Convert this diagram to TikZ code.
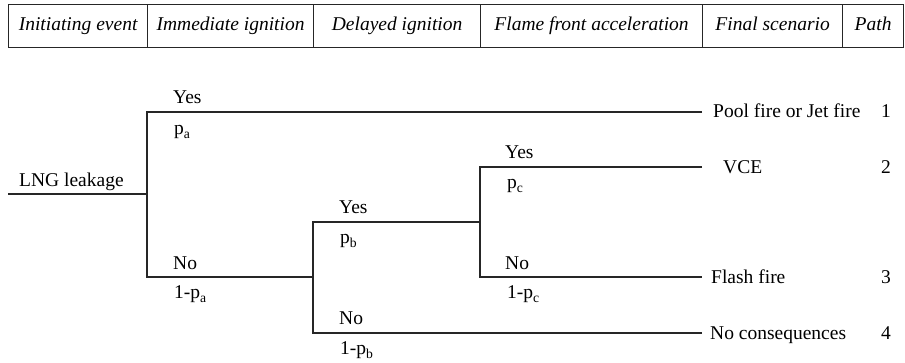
\documentclass[tikz,border=0pt]{standalone}
\usepackage{fontspec}
\setmainfont{Liberation Serif}
\begin{document}
\begin{tikzpicture}[x=1pt,y=-1pt,
  fs/.style={font=\fontsize{19.5}{23}\selectfont},
  cell/.style={draw=black!85, line width=1.2pt, minimum height=43pt, inner sep=0pt,
    text height=12.6pt, text depth=4.2pt, anchor=north west, font=\fontsize{19.5}{23}\selectfont\itshape},
  tree/.style={draw=black!85, line width=1.5pt},
  lab/.style={fs, anchor=base west, inner sep=0pt},
  num/.style={fs, anchor=base, inner sep=0pt}]
\useasboundingbox (0,0) rectangle (905,363);
% header
\node[cell, minimum width=139pt] (h1) at (8,4) {Initiating event};
\node[cell, minimum width=166pt] (h2) at (147,4) {Immediate ignition};
\node[cell, minimum width=167pt] (h3) at (313,4) {Delayed ignition};
\node[cell, minimum width=222pt] (h4) at (480,4) {Flame front acceleration};
\node[cell, minimum width=140pt] (h5) at (702,4) {Final scenario};
\node[cell, minimum width=61pt] (h6) at (842,4) {Path};
% tree coordinates
\coordinate (S) at (8,194);
\coordinate (A) at (147,194);
\coordinate (B) at (313,277);
\coordinate (C) at (480,222);
\coordinate (e1) at (702,112);
\coordinate (e2) at (702,167);
\coordinate (e3) at (702,277);
\coordinate (e4) at (702,333);
\draw[tree] (S) -- (A);
\draw[tree] (e1) -| (A) |- (B);
\draw[tree] (e4) -| (B) |- (C);
\draw[tree] (e2) -| (C) |- (e3);
% labels
\node[lab] (lng) at (19,187) {LNG leakage};
\node[lab] (ya) at (173,104) {Yes};
\node[lab] (pa) at (174,135) {p\textsubscript{a}};
\node[lab] (na) at (173,270) {No};
\node[lab] (qa) at (174,299) {1-p\textsubscript{a}};
\node[lab] (yb) at (339,214) {Yes};
\node[lab] (pb) at (340,244) {p\textsubscript{b}};
\node[lab] (nb) at (339,325) {No};
\node[lab] (qb) at (340,355) {1-p\textsubscript{b}};
\node[lab] (yc) at (505,159) {Yes};
\node[lab] (pc) at (507,189) {p\textsubscript{c}};
\node[lab] (nc) at (505,270) {No};
\node[lab] (qc) at (507,299) {1-p\textsubscript{c}};
% outcomes
\node[lab] (o1) at (713,118) {Pool fire or Jet fire};
\node[lab] (o2) at (723,174) {VCE};
\node[lab] (o3) at (711,284) {Flash fire};
\node[lab] (o4) at (710,340) {No consequences};
\node[num] (n1) at (886,118) {1};
\node[num] (n2) at (886,174) {2};
\node[num] (n3) at (886,284) {3};
\node[num] (n4) at (886,340) {4};
\end{tikzpicture}
\end{document}
